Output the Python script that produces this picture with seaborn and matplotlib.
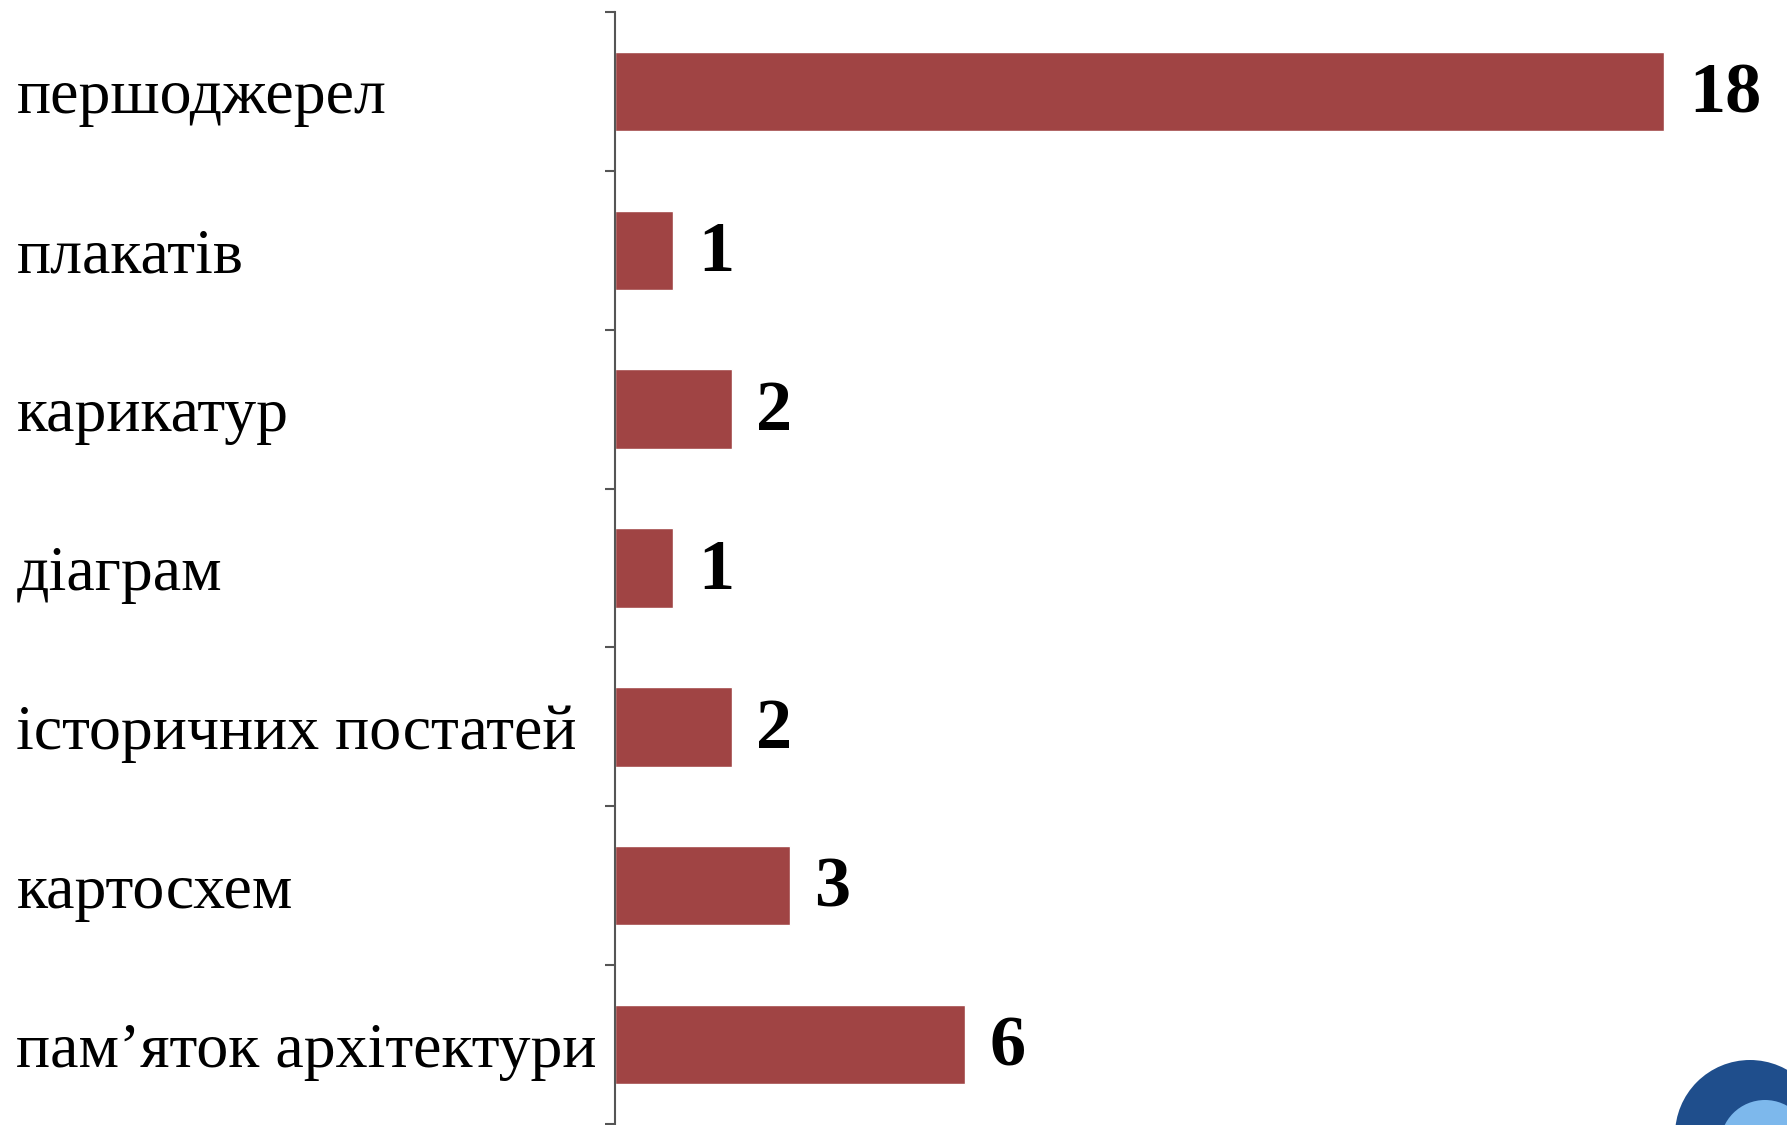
import matplotlib
matplotlib.use("Agg")
import matplotlib.pyplot as plt
import seaborn as sns
import pandas as pd
import numpy as np
from matplotlib.patches import Circle

# Categories and counts
categories = ["першоджерел", "плакатів", "карикатур", "діаграм",
              "історичних постатей", "картосхем", "пам’яток архітектури"]
counts = [18, 1, 2, 1, 2, 3, 6]

df = pd.DataFrame({"category": categories, "count": counts})

sns.set_theme(style="white")
plt.rcParams['font.family'] = ['Liberation Serif', 'DejaVu Serif']

fig = plt.figure(figsize=(17.87, 11.25), dpi=100)
ax = fig.add_axes([615 / 1787, 1 / 1125, 1166 / 1787, 1112 / 1125])

sns.barplot(data=df, y="category", x="count", orient="h", color="#A04444",
            saturation=1, width=0.5, ax=ax)

ax.set_xlim(0, 20)
ax.set_ylim(len(categories) - 0.5, -0.5)

# value labels
for i, v in enumerate(counts):
    ax.text(v + 0.42, i + 0.02, str(v), va="center", ha="left",
            fontsize=52, fontweight="bold", color="black")

# spines / ticks
for s in ["top", "right", "bottom"]:
    ax.spines[s].set_visible(False)
ax.spines["left"].set_color("#555555")
ax.spines["left"].set_linewidth(1.5)
ax.set_xticks([])
ax.set_xlabel("")
ax.set_ylabel("")

ax.set_yticks(np.arange(len(categories)))
ax.set_yticklabels(categories, ha="left", fontsize=46, color="black")
ax.tick_params(axis="y", which="major", length=0, pad=431)
ax.set_yticks(np.arange(-0.5, len(categories), 1), minor=True)
ax.tick_params(axis="y", which="minor", length=7, width=1.5, color="#555555",
               direction="out", left=True)

# decorative logo circle in the corner
fig.add_artist(Circle((17.5, -0.1), 0.75, transform=fig.dpi_scale_trans,
                      facecolor="#1F4E8C", edgecolor="none", zorder=5))
fig.add_artist(Circle((17.65, -0.2), 0.45, transform=fig.dpi_scale_trans,
                      facecolor="#7DB8EC", edgecolor="none", zorder=6))

fig.savefig("out.png", dpi=100)
